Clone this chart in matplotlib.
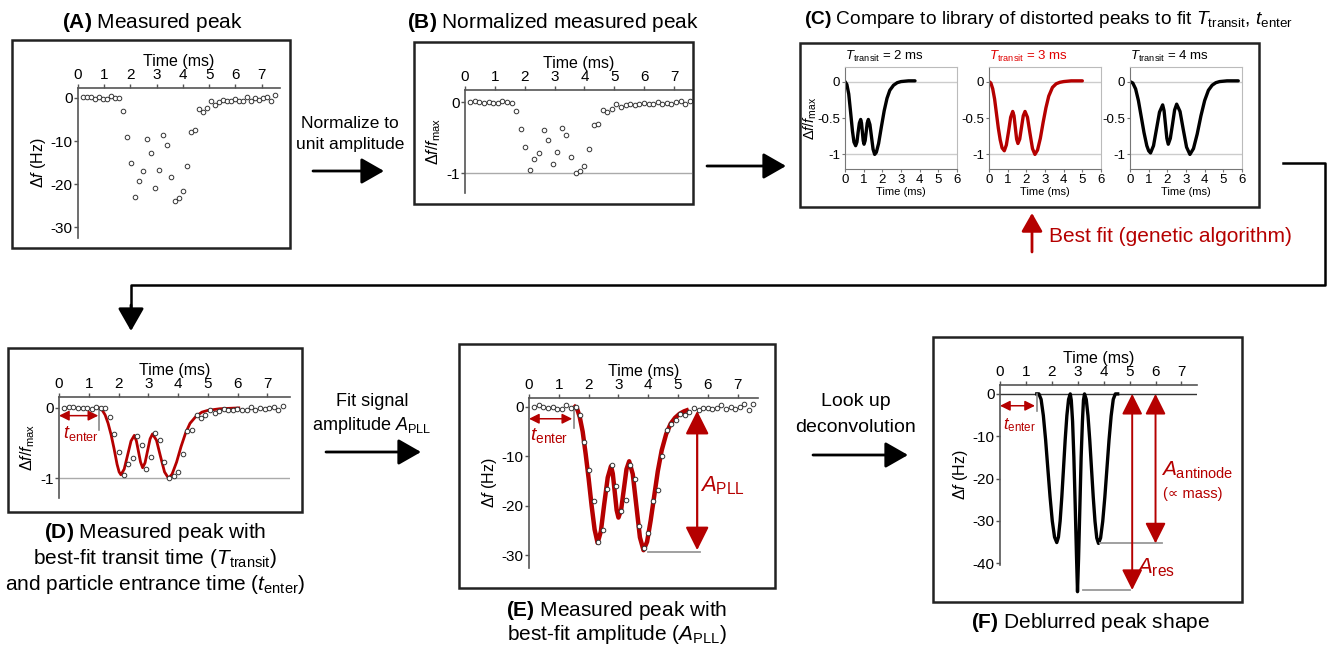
import numpy as np
import matplotlib
matplotlib.use("Agg")
import matplotlib.pyplot as plt
from matplotlib.patches import Rectangle, FancyArrowPatch
from matplotlib.lines import Line2D

plt.rcParams["font.family"] = ["Liberation Sans", "DejaVu Sans"]
plt.rcParams["mathtext.fontset"] = "custom"
plt.rcParams["mathtext.rm"] = "Liberation Sans"
plt.rcParams["mathtext.it"] = "Liberation Sans:italic"
plt.rcParams["mathtext.bf"] = "Liberation Sans:bold"
plt.rcParams["axes.unicode_minus"] = False

# ---- data ----
t_meas = [0.18, 0.33, 0.48, 0.64, 0.79, 0.94, 1.10, 1.25, 1.40, 1.56,
          1.71, 1.86, 2.01, 2.17, 2.32, 2.47, 2.63, 2.78, 2.93, 3.08,
          3.24, 3.39, 3.54, 3.70, 3.85, 4.00, 4.16, 4.31, 4.46, 4.62,
          4.77, 4.92, 5.07, 5.23, 5.38, 5.53, 5.69, 5.84, 5.99, 6.15,
          6.30, 6.45, 6.60, 6.76, 6.91, 7.06, 7.22, 7.37, 7.52]

# panel A measured peak (Hz)
df_a = [0.1, 0.3, 0.2, -0.2, 0.1, -0.2, -0.3, 0.4, 0.0, -0.1,
        -3.0, -9.0, -15.0, -23.0, -19.2, -17.0, -9.5, -12.7, -20.9, -16.7,
        -8.6, -11.0, -18.4, -24.0, -23.3, -21.7, -15.7, -7.8, -7.4, -2.5,
        -3.3, -2.3, -0.6, -1.6, -1.0, -0.5, -0.8, -0.6, -0.3, -0.6,
        -0.7, 0.2, -0.6, -0.1, -0.5, 0.0, 0.3, -0.6, 0.6]

# panel E measured peak (Hz)
df_e = [0.0, 0.3, 0.0, -0.3, -0.1, -0.4, -0.5, 0.3, -0.3, -0.1,
        -1.7, -7.2, -12.7, -19.0, -27.4, -25.0, -16.7, -11.8, -16.1, -21.0,
        -18.9, -11.8, -14.6, -24.2, -28.6, -25.5, -19.0, -16.9, -9.9, -4.7,
        -3.5, -2.6, -1.4, -1.7, -1.0, -0.3, -0.7, -0.3, -0.2, -0.4,
        -0.2, 0.3, -0.5, -0.1, -0.5, 0.0, 0.5, -0.7, 0.5]

# library of distorted peaks (normalized)
lib_t2 = [0.0, 0.1, 0.2, 0.3, 0.4, 0.48, 0.57, 0.64, 0.70, 0.77, 0.84, 0.885,
          0.93, 0.975, 1.02, 1.08, 1.135, 1.19, 1.25, 1.335, 1.42, 1.505, 1.59,
          1.68, 1.8, 1.95, 2.1, 2.25, 2.4, 2.6, 2.8, 3.0, 3.4, 3.75]
lib_y2 = [0.0, -0.04, -0.17, -0.42, -0.68, -0.83, -0.88, -0.83, -0.70, -0.57,
          -0.52, -0.57, -0.69, -0.81, -0.86, -0.81, -0.69, -0.57, -0.52, -0.59,
          -0.76, -0.93, -1.0, -0.97, -0.85, -0.62, -0.40, -0.23, -0.12, -0.05,
          -0.015, 0.0, 0.01, 0.01]
lib_t3 = [0.0, 0.1, 0.2, 0.3, 0.4, 0.5, 0.6, 0.7, 0.82, 0.93, 1.05, 1.16, 1.27,
          1.34, 1.41, 1.48, 1.55, 1.645, 1.74, 1.835, 1.93, 2.06, 2.195, 2.33,
          2.46, 2.6, 2.75, 2.9, 3.05, 3.2, 3.4, 3.6, 3.8, 4.0, 4.4, 5.0]
lib_y3 = [0.0, -0.02, -0.1, -0.24, -0.44, -0.64, -0.8, -0.91, -0.95, -0.87,
          -0.68, -0.49, -0.41, -0.47, -0.63, -0.79, -0.85, -0.79, -0.63, -0.47,
          -0.41, -0.49, -0.71, -0.92, -1.0, -0.94, -0.78, -0.56, -0.36, -0.2,
          -0.08, -0.03, -0.01, 0.0, 0.01, 0.01]
lib_t4 = [0.0, 0.15, 0.3, 0.45, 0.6, 0.75, 0.9, 1.0, 1.1, 1.26, 1.42, 1.58,
          1.75, 1.825, 1.9, 1.975, 2.05, 2.16, 2.275, 2.39, 2.5, 2.68, 2.855,
          3.03, 3.21, 3.4, 3.6, 3.8, 4.0, 4.2, 4.4, 4.6, 4.8, 5.2, 5.8]
lib_y4 = [0.0, -0.02, -0.1, -0.26, -0.48, -0.7, -0.88, -0.95, -0.98, -0.88,
          -0.65, -0.42, -0.32, -0.40, -0.59, -0.78, -0.86, -0.78, -0.59, -0.39,
          -0.31, -0.41, -0.66, -0.9, -1.0, -0.92, -0.72, -0.47, -0.26, -0.12,
          -0.05, -0.015, 0.0, 0.01, 0.01]
lib_titles = ["2 ms", "3 ms", "4 ms"]

# best-fit curve in D (normalized)
fit_t_d = [1.34, 1.45, 1.55, 1.65, 1.75, 1.85, 1.95, 2.02, 2.08, 2.19, 2.305,
           2.42, 2.53, 2.6, 2.67, 2.74, 2.81, 2.89, 2.975, 3.06, 3.14, 3.275,
           3.41, 3.545, 3.68, 3.8, 3.95, 4.1, 4.25, 4.4, 4.6, 4.8, 5.0, 5.4, 6.04]
fit_y_d = [0.0, -0.03, -0.1, -0.22, -0.38, -0.58, -0.8, -0.91, -0.95, -0.87,
           -0.67, -0.47, -0.39, -0.47, -0.62, -0.77, -0.85, -0.78, -0.61, -0.44,
           -0.37, -0.46, -0.69, -0.91, -1.0, -0.94, -0.77, -0.55, -0.36, -0.22,
           -0.12, -0.06, -0.035, -0.012, 0.0]

# best-fit curve in E (Hz)
fit_t_e = [1.54, 1.62, 1.7, 1.8, 1.9, 2.0, 2.1, 2.2, 2.3, 2.41, 2.52, 2.64,
           2.75, 2.81, 2.875, 2.94, 3.0, 3.09, 3.18, 3.27, 3.36, 3.48, 3.6,
           3.72, 3.84, 3.96, 4.08, 4.2, 4.32, 4.45, 4.6, 4.75, 4.9, 5.05, 5.2, 5.29]
fit_y_e = [0.0, -0.5, -2.0, -5.0, -9.5, -14.5, -20.0, -24.8, -27.5, -25.2,
           -19.8, -14.3, -12.0, -13.5, -17.2, -20.9, -22.4, -20.8, -16.7, -12.6,
           -11.0, -13.6, -20.0, -26.4, -29.0, -27.3, -23.0, -18.0, -13.0, -8.8,
           -5.5, -3.4, -2.2, -1.4, -0.9, -0.7]

# deblurred peak in F (Hz)
deb_t = [1.42, 1.5, 1.586, 1.672, 1.759, 1.845, 1.931, 2.017, 2.104, 2.19,
         2.255, 2.32, 2.385, 2.45, 2.515, 2.58, 2.645, 2.71,
         2.75, 2.8, 2.85, 2.9, 2.95, 2.99, 3.03, 3.08, 3.13, 3.18, 3.22, 3.26,
         3.3275, 3.395, 3.4625, 3.53, 3.5975, 3.665, 3.7325, 3.80,
         3.881, 3.963, 4.044, 4.125, 4.206, 4.288, 4.369, 4.45, 4.54]
deb_y = [0.0, 0.0, -1.3, -5.1, -10.8, -17.6, -24.3, -30.0, -33.8, -35.1,
         -33.8, -30.0, -24.3, -17.6, -10.8, -5.1, -1.3, 0.0,
         -1.5, -6.5, -15.0, -26.0, -38.0, -46.7, -39.0, -27.0, -15.0, -6.5, -1.5, 0.0,
         -1.3, -5.2, -10.9, -17.65, -24.4, -30.1, -34.0, -35.3,
         -34.0, -30.1, -24.4, -17.65, -10.9, -5.2, -1.3, 0.0, 0.0]

t_enter_d, t_enter_e, t_enter_f = 1.34, 1.5, 1.43
a_pll = -29.3
a_antinode, a_res = -35.3, -46.3

RED = "#b50000"
RED_T = "#e00000"
GRAY = "#555555"
W, H = 1330, 645

fig = plt.figure(figsize=(W / 100, H / 100), dpi=100)


def px_axes(x0, y0, x1, y1):
    return fig.add_axes([x0 / W, 1 - y1 / H, (x1 - x0) / W, (y1 - y0) / H])


def frame(x0, y0, x1, y1):
    fig.add_artist(Rectangle((x0 / W, 1 - y1 / H), (x1 - x0) / W, (y1 - y0) / H,
                             transform=fig.transFigure, fill=False,
                             ec="#222222", lw=1.8))


def ftext(x, y, s, **kw):
    kw.setdefault("ha", "center")
    kw.setdefault("va", "center")
    kw.setdefault("fontsize", 15)
    fig.text(x / W, 1 - y / H, s, **kw)


def farrow(x0, y0, x1, y1, color="black", lw=2, scale=20, hl=0.7, hw=0.4):
    fig.add_artist(FancyArrowPatch((x0 / W, 1 - y0 / H), (x1 / W, 1 - y1 / H),
                                   transform=fig.transFigure,
                                   arrowstyle=f"-|>,head_length={hl},head_width={hw}",
                                   mutation_scale=scale, color=color, lw=lw,
                                   shrinkA=0, shrinkB=0))


def style_main(ax, xmax, ylim, yticks, ylabel):
    ax.set_xlim(0, xmax)
    ax.set_ylim(*ylim)
    for s in ["right", "bottom"]:
        ax.spines[s].set_visible(False)
    for s in ["top", "left"]:
        ax.spines[s].set_color(GRAY)
        ax.spines[s].set_linewidth(1.2)
    ax.xaxis.tick_top()
    ax.xaxis.set_label_position("top")
    ax.set_xticks(range(8))
    ax.set_yticks(yticks)
    ax.set_xlabel("Time (ms)", fontsize=11.5, labelpad=2)
    ax.set_ylabel(ylabel, fontsize=11.5, labelpad=2)
    ax.tick_params(labelsize=11, length=3, width=1, color=GRAY, pad=1)
    ax.patch.set_alpha(0)


def dbl_arrow(ax, x, y0, y1, scale=14, lw=1.5):
    ax.annotate("", xy=(x, y1), xytext=(x, y0), annotation_clip=False,
                arrowprops=dict(arrowstyle="<|-|>,head_length=0.9,head_width=0.45",
                                mutation_scale=scale, color=RED, lw=lw,
                                shrinkA=0, shrinkB=0))


def enter_marker(ax, t_end, t_tick, y_arr, y_tick, label_xy, fs=13):
    ax.annotate("", xy=(t_end, y_arr), xytext=(0, y_arr),
                arrowprops=dict(arrowstyle="<|-|>,head_length=0.6,head_width=0.3",
                                mutation_scale=10, color=RED, lw=1.1,
                                shrinkA=0, shrinkB=0))
    ax.plot([t_tick, t_tick], [0, y_tick], color="#888888", lw=1.2)
    ax.text(label_xy[0], label_xy[1], r"$\mathit{t}_{\mathrm{enter}}$",
            color=RED, fontsize=fs, ha="left", va="center")


df_max = max(abs(v) for v in df_a)
df_norm = [v / df_max for v in df_a]
mk = dict(ls="none", marker="o", ms=3.3, mfc="white", mec="#333333", mew=0.7)

# ---- frames ----
frame(12, 40, 290, 248)
frame(414, 42, 693, 204)
frame(800, 43, 1259, 207)
frame(8, 348, 302, 512)
frame(459, 344, 775, 588)
frame(933, 337, 1242, 602)

# ---- (A) ----
ax = px_axes(78, 88, 280, 238)
style_main(ax, 7.7, (-32.5, 2.3), [0, -10, -20, -30], r"$\Delta\mathit{f}$ (Hz)")
ax.plot(t_meas, df_a, **mk)
ftext(152, 22, r"$\mathbf{(A)}$ Measured peak")

# ---- (B) ----
ax = px_axes(465, 90, 692, 193)
style_main(ax, 7.6, (-1.28, 0.174), [0, -1],
           r"$\Delta\mathit{f}/\mathit{f}_{\mathrm{max}}$")
ax.axhline(-1, color="#aaaaaa", lw=1)
ax.plot(t_meas, df_norm, **mk)
ftext(553, 22, r"$\mathbf{(B)}$ Normalized measured peak")

# ---- (C) ----
ftext(804, 20, r"$\mathbf{(C)}$ Compare to library of distorted peaks to fit "
      r"$\mathit{T}_{\mathrm{transit}}$, $\mathit{t}_{\mathrm{enter}}$", ha="left",
      fontsize=13.8)
lib = [(lib_t2, lib_y2), (lib_t3, lib_y3), (lib_t4, lib_y4)]
for i, (x0, (lt, ly)) in enumerate(zip([845, 989, 1130], lib)):
    ax = px_axes(x0, 67, x0 + 112, 169)
    ax.set_xlim(0, 6)
    ax.set_ylim(-1.2, 0.2)
    ax.set_xticks(range(7))
    ax.set_yticks([0, -0.5, -1])
    ax.set_yticklabels(["0", "-0.5", "-1"])
    for s in ["top", "right"]:
        ax.spines[s].set_color("#bbbbbb")
    for s in ["left", "bottom"]:
        ax.spines[s].set_color("#777777")
    ax.axhline(0, color="#cccccc", lw=1)
    ax.axhline(-1, color="#cccccc", lw=1)
    ax.tick_params(labelsize=9.5, length=2.5, pad=1, color="#777777")
    ax.set_xlabel("Time (ms)", fontsize=8, labelpad=1)
    color = RED if i == 1 else "black"
    ax.plot(lt, ly, color=color, lw=2.4, solid_joinstyle="round",
            solid_capstyle="round")
    tcol = RED_T if i == 1 else "black"
    ax.text(0, 1.03, r"$\mathit{T}_{\mathrm{transit}}$ = " + lib_titles[i],
            transform=ax.transAxes, fontsize=9.5, color=tcol, ha="left", va="bottom")
ftext(810, 118, r"$\Delta\mathit{f}/\mathit{f}_{\mathrm{max}}$", fontsize=10.5,
      rotation=90)

farrow(1032, 252, 1032, 213, color=RED, lw=2, scale=16)
ftext(1049, 237, "Best fit (genetic algorithm)", color=RED, ha="left")

# connector C -> D
fig.add_artist(Line2D(np.array([1283, 1325, 1325, 131, 131]) / W,
                      1 - np.array([163, 163, 285, 285, 312]) / H,
                      transform=fig.transFigure, color="black", lw=1.8))
farrow(131, 305, 131, 331)

# ---- arrows between panels ----
ftext(350, 123, "Normalize to", fontsize=12.5)
ftext(350, 145, "unit amplitude", fontsize=12.5)
farrow(313, 171, 384, 171)
farrow(707, 166, 786, 166)

ftext(372, 402, "Fit signal", fontsize=13)
ftext(372, 426, r"amplitude $\mathit{A}_{\mathrm{PLL}}$", fontsize=13)
farrow(326, 452, 421, 452)

ftext(856, 402, "Look up", fontsize=14)
ftext(856, 427, "deconvolution", fontsize=14)
farrow(813, 455, 908, 455)

# ---- (D) ----
ax = px_axes(59, 397, 290, 498)
style_main(ax, 7.76, (-1.28, 0.155), [0, -1],
           r"$\Delta\mathit{f}/\mathit{f}_{\mathrm{max}}$")
ax.axhline(-1, color="#aaaaaa", lw=1)
ax.plot(t_meas, df_norm, **mk, zorder=3)
ax.plot(fit_t_d, fit_y_d, color=RED, lw=2, solid_joinstyle="round", zorder=2)
enter_marker(ax, t_enter_d - 0.02, t_enter_d, -0.11, -0.31, (0.12, -0.37))
ftext(155, 532, r"$\mathbf{(D)}$ Measured peak with")
ftext(155, 558, r"best-fit transit time ($\mathit{T}_{\mathrm{transit}}$)")
ftext(155, 584, r"and particle entrance time ($\mathit{t}_{\mathrm{enter}}$)")

# ---- (E) ----
ax = px_axes(529, 398, 758, 568)
style_main(ax, 7.68, (-32.6, 1.8), [0, -10, -20, -30], r"$\Delta\mathit{f}$ (Hz)")
ax.plot(fit_t_e, fit_y_e, color=RED, lw=3.2, solid_joinstyle="round", zorder=2)
ax.plot(t_meas, df_e, **mk, zorder=3)
ax.plot([4.0, 5.75], [a_pll, a_pll], color="#999999", lw=1.3)
dbl_arrow(ax, 5.64, -0.8, a_pll + 0.3, scale=16, lw=1.6)
ax.text(5.72, -16, r"$\mathit{A}_{\mathrm{PLL}}$", color=RED, fontsize=16,
        ha="left", va="center")
enter_marker(ax, t_enter_e - 0.05, t_enter_e, -2.4, -4.3, (0.05, -5.8), fs=14)
ftext(617, 610, r"$\mathbf{(E)}$ Measured peak with")
ftext(617, 634, r"best-fit amplitude ($\mathit{A}_{\mathrm{PLL}}$)")

# ---- (F) ----
ax = px_axes(1000, 385, 1197, 565)
style_main(ax, 7.6, (-40.4, 2.1), [0, -10, -20, -30, -40], r"$\Delta\mathit{f}$ (Hz)")
ax.axhline(0, color="#333333", lw=1)
ax.plot(deb_t, deb_y, color="black", lw=2.4, solid_joinstyle="round",
        clip_on=False)
ax.plot([3.85, 6.25], [a_antinode, a_antinode], color="#999999", lw=1.3,
        clip_on=False)
ax.plot([3.2, 5.0], [a_res, a_res], color="#999999", lw=1.3, clip_on=False)
dbl_arrow(ax, 5.1, 0, a_res, scale=14, lw=1.4)
dbl_arrow(ax, 6.0, 0, a_antinode, scale=14, lw=1.4)
ax.text(6.2, -18.0, r"$\mathit{A}_{\mathrm{antinode}}$", color=RED, fontsize=15,
        ha="left", va="center")
ax.text(6.3, -23.6, "(∝ mass)", color=RED, fontsize=10.5, ha="left", va="center")
ax.text(5.25, -41, r"$\mathit{A}_{\mathrm{res}}$", color=RED, fontsize=16,
        ha="left", va="center")
enter_marker(ax, t_enter_f - 0.08, t_enter_f, -2.8, -4.0, (0.1, -7.3), fs=12)
ftext(1090, 622, r"$\mathbf{(F)}$ Deblurred peak shape")

fig.savefig("out.png", dpi=100)
